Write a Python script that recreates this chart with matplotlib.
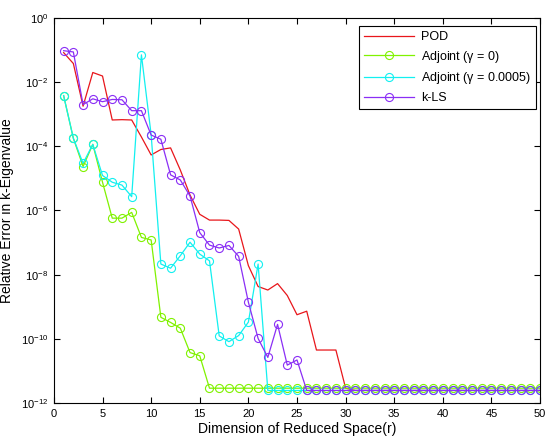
import numpy as np
import matplotlib
matplotlib.use("Agg")
import matplotlib.pyplot as plt
from matplotlib.ticker import FixedLocator, NullLocator, LogFormatterSciNotation

plt.rcParams['font.family'] = ['Liberation Sans', 'DejaVu Sans']
plt.rcParams['mathtext.fontset'] = 'custom'
plt.rcParams['mathtext.rm'] = 'Liberation Sans'
plt.rcParams['mathtext.it'] = 'Liberation Sans'

# reduced space dimension r = 1..50
r = np.arange(1, 51)

# log10 of relative error
floor_lo = -11.61
floor_green = -11.54

pod_log = [-1.08, -1.42, -2.75, -1.70, -1.81, -3.18, -3.17, -3.18, -3.71, -4.27,
           -4.10, -4.05, -4.74, -5.52, -6.12, -6.30, -6.30, -6.31, -6.58, -7.72,
           -8.37, -8.48, -8.28, -8.65, -9.25, -9.14, -10.35, -10.35, -10.35, -11.54] \
          + [floor_lo] * 20

adj0_log = [-2.42, -3.75, -4.63, -3.94, -5.12, -6.24, -6.24, -6.06, -6.84, -6.92,
            -9.33, -9.49, -9.67, -10.43, -10.53] + [floor_green] * 35

adj5_log = [-2.42, -3.75, -4.53, -3.94, -4.91, -5.12, -5.21, -5.57, -1.15, -3.64,
            -7.67, -7.80, -7.41, -6.99, -7.36, -7.57, -9.91, -10.09, -9.90, -9.48,
            -7.67] + [floor_lo] * 29

kls_log = [-1.02, -1.06, -2.70, -2.52, -2.61, -2.54, -2.55, -2.89, -2.89, -3.65,
           -3.78, -4.89, -5.05, -5.55, -6.69, -7.08, -7.17, -7.09, -7.43, -8.86,
           -9.99, -10.58, -9.55, -10.82, -10.66] + [floor_lo] * 25

labels = ['POD', r'Adjoint ($\gamma$ = 0)', r'Adjoint ($\gamma$ = 0.0005)', 'k-LS']
colors = ['#e8161b', '#80f200', '#12f0f0', '#8a2ef5']

fig = plt.figure(figsize=(5.5, 4.38), dpi=100)
ax = fig.add_axes([0.098, 0.080, 0.884, 0.879])

mk = dict(lw=0.9, ms=5.8, mfc='none', mew=0.8)
ax.semilogy(r, 10.0 ** np.array(pod_log), '-', color=colors[0], lw=0.9, label=labels[0])
ax.semilogy(r, 10.0 ** np.array(adj0_log), '-o', color=colors[1], label=labels[1], **mk)
ax.semilogy(r, 10.0 ** np.array(adj5_log), '-o', color=colors[2], label=labels[2], **mk)
ax.semilogy(r, 10.0 ** np.array(kls_log), '-o', color=colors[3], label=labels[3], **mk)

ax.set_xlim(0, 50)
ax.set_ylim(1e-12, 1e0)
ax.set_xticks(np.arange(0, 51, 5))
ax.yaxis.set_major_locator(FixedLocator(10.0 ** np.arange(-12, 1, 2)))
ax.yaxis.set_minor_locator(NullLocator())
ax.yaxis.set_major_formatter(LogFormatterSciNotation())
ax.tick_params(direction='in', top=True, right=True, length=4, width=0.8,
               labelsize=8, pad=4)
for s in ax.spines.values():
    s.set_linewidth(0.8)

ax.set_ylabel('Relative Error in k-Eigenvalue', fontsize=10, labelpad=5)
fig.text(0.54, 0.004, 'Dimension of Reduced Space(r)', ha='center', va='bottom',
         fontsize=10)

leg = ax.legend(loc='upper right', bbox_to_anchor=(0.992, 0.979), fontsize=9,
                handlelength=4.0, numpoints=1, fancybox=False, framealpha=1,
                edgecolor='black', borderpad=0.4, labelspacing=0.45,
                handletextpad=0.6, borderaxespad=0)
leg.get_frame().set_linewidth(0.8)

fig.savefig('out.png', dpi=100)
